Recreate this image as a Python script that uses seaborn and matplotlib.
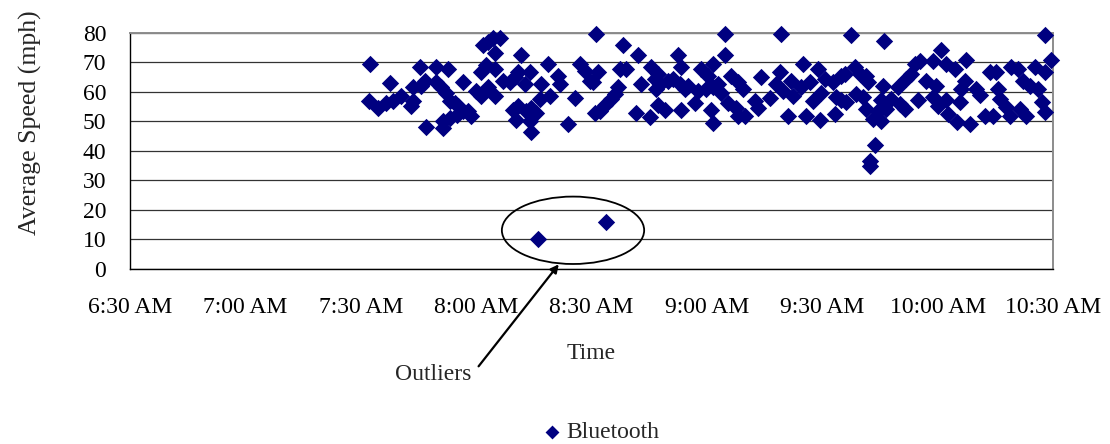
import matplotlib
matplotlib.use("Agg")
import matplotlib.pyplot as plt
from matplotlib.patches import Ellipse
import pandas as pd
import seaborn as sns

# Bluetooth travel-time detections: minutes after 6:30 AM and average speed (mph)
minutes = [
    62.4, 62.2, 64.6, 67.6, 66.7, 68.5, 70.6, 73.2, 73.7, 75.4, 75.8, 76.7, 73.7, 77.0,
    79.7, 82.8, 79.7, 81.0, 82.2, 83.2, 84.5, 85.4, 81.5, 81.5, 83.2, 85.0, 86.7, 88.0,
    88.8, 86.5, 90.1, 91.4, 91.4, 92.7, 91.9, 93.2, 94.5, 96.2, 94.9, 94.9, 93.2, 94.9,
    97.1, 98.8, 100.1, 101.0, 101.8, 102.7, 104.0, 99.7, 101.0, 100.5, 103.1, 104.4,
    105.7, 104.0, 104.2, 107.0, 108.8, 111.4, 111.8, 106.6, 109.2, 115.7, 114.0, 117.0,
    118.3,
    121.3, 119.6, 121.8, 120.5, 120.9, 122.2, 123.5, 125.2, 127.0, 126.1, 128.3, 127.4,
    129.1, 132.2, 133.0, 131.7, 135.2, 135.6, 136.5, 137.4, 137.8, 136.9, 137.4, 139.1,
    140.0, 141.3, 142.6, 143.4, 143.0, 143.4, 145.2, 144.3, 146.9, 147.8, 148.6, 150.4,
    151.5, 149.9, 151.7, 153.0, 153.8, 154.7, 154.7, 151.2, 151.7, 155.6, 156.4, 158.2,
    159.5, 157.7, 158.2, 159.9, 162.5, 163.4, 164.2, 166.4, 168.1, 169.0, 169.4, 171.2,
    172.0, 172.5, 169.9, 175.1, 174.6, 175.9, 176.8, 177.7, 179.0, 179.4, 180.7, 179.8,
    187.6, 196.0, 182.9, 185.0, 185.9, 188.5, 189.8, 191.5, 192.0, 183.7, 185.0, 183.3,
    186.3, 188.9, 190.7, 191.5, 193.3, 195.4, 194.6, 195.9, 195.4, 196.7, 193.7, 192.4,
    192.4, 198.0, 200.2, 201.5, 199.8, 201.9, 203.2, 205.0, 204.1, 205.4, 207.1, 208.9,
    211.0, 209.7, 208.9, 210.2, 212.3, 214.5, 212.3, 212.8, 215.0, 215.8, 216.2, 217.1,
    217.5, 218.4, 220.1, 221.0, 222.3, 223.6, 225.3, 225.8, 226.2, 224.5, 227.9, 228.8,
    229.2, 230.9, 231.4, 233.1, 232.3, 234.0, 235.3, 236.2, 237.9, 237.1, 237.9, 237.9,
    239.6,
    106.1, 123.9,
]
speed_mph = [
    69.4, 56.8, 54.5, 62.8, 56.2, 56.8, 58.5, 55.0, 61.4, 68.3, 62.0, 63.7, 56.8, 48.2,
    68.3, 67.7, 63.1, 61.4, 59.7, 56.8, 56.2, 55.0, 49.9, 47.6, 51.0, 52.2, 53.3, 53.3,
    51.6, 63.4, 60.2, 58.5, 66.6, 68.9, 75.7, 76.9, 78.0, 78.0, 72.9, 67.7, 61.4, 58.5,
    63.7, 63.1, 64.8, 66.6, 72.3, 62.5, 66.6, 53.9, 55.0, 50.5, 53.3, 54.5,
    52.8, 49.9, 46.4, 62.5, 69.4, 65.4, 62.5, 57.4, 58.5, 57.9, 49.0, 69.4,
    67.1,
    79.5, 63.7, 66.6, 63.1, 52.8, 53.3, 55.6, 57.4, 61.4, 59.1, 75.7, 67.7,
    67.7, 72.3, 62.5, 52.8, 51.3, 68.3, 64.3, 66.0, 62.5, 60.8, 55.6, 53.9,
    63.7, 64.3, 72.3, 68.3, 62.5, 53.9, 62.0, 60.8, 56.2, 60.2, 67.7, 65.4,
    69.4, 60.8, 61.4, 62.5, 59.7, 79.5, 72.3, 53.9, 49.3, 56.2, 65.4, 63.1,
    60.8, 54.5, 51.6, 51.6, 56.8, 54.5, 64.8, 57.9, 62.5, 66.6, 79.5, 51.6,
    63.7, 58.5, 60.2, 69.4, 61.4, 51.6, 63.1, 56.8, 67.7, 50.5, 64.3, 59.7,
    79.2, 77.2, 63.1, 65.4, 66.0, 68.2, 66.0, 65.4, 63.1, 58.1, 57.0, 52.5,
    56.4, 59.2, 58.1, 54.2, 50.8, 50.2, 53.6, 62.0, 57.0, 54.2, 42.1, 36.7,
    34.7, 57.5, 55.8, 54.2, 61.5, 64.3, 66.0, 57.0, 69.3, 70.4, 63.7, 70.4,
    74.0, 62.0, 58.1, 55.3, 69.3, 67.6, 57.0, 52.5, 49.7, 56.4, 60.9, 63.7,
    70.7, 49.1, 60.9, 58.7, 51.9, 66.5, 66.5, 60.9, 57.5, 51.9, 54.7, 51.9,
    68.2, 67.6, 54.2, 51.9, 63.7, 62.0, 68.2, 60.9, 66.5, 56.4, 53.0, 79.2,
    70.7,
    10.3, 15.8,
]

tick_minutes = [0, 30, 60, 90, 120, 150, 180, 210, 240]
tick_labels = ["6:30 AM", "7:00 AM", "7:30 AM", "8:00 AM", "8:30 AM",
               "9:00 AM", "9:30 AM", "10:00 AM", "10:30 AM"]
speed_ticks = [0, 10, 20, 30, 40, 50, 60, 70, 80]

df = pd.DataFrame({"minutes": minutes, "speed": speed_mph})

sns.set_theme(style="white")
plt.rcParams["font.family"] = ["Liberation Serif", "DejaVu Serif"]
plt.rcParams["font.size"] = 17

fig = plt.figure(figsize=(11.1, 4.44), dpi=100)
ax = fig.add_axes([0.1171, 0.3941, 0.8315, 0.5327])

sns.scatterplot(data=df, x="minutes", y="speed", marker="D", s=78,
                color="#000080", linewidth=0, label="Bluetooth",
                clip_on=False, zorder=3, ax=ax)

ax.set_xlim(0, 240)
ax.set_ylim(0, 80)
ax.set_xticks(tick_minutes)
ax.set_xticklabels(tick_labels)
ax.set_yticks(speed_ticks)
ax.tick_params(axis="both", direction="out", length=8, width=1,
               color="black", labelsize=17, labelcolor="black")
ax.tick_params(axis="x", pad=12)
ax.tick_params(axis="y", pad=9)

ax.grid(axis="y", color="#333333", linewidth=0.9)
ax.grid(axis="x", visible=False)
ax.set_axisbelow(True)
for side in ("left", "bottom"):
    ax.spines[side].set_color("black")
    ax.spines[side].set_linewidth(1)
for side in ("top", "right"):
    ax.spines[side].set_color("#8c8c8c")
    ax.spines[side].set_linewidth(1.4)

ax.set_xlabel("Time", fontsize=17)
ax.set_ylabel("Average Speed (mph)", fontsize=18.5)
ax.xaxis.set_label_coords(0.5, -0.313)
ax.yaxis.set_label_coords(-0.095, 0.62)

# ring around the two low readings, with a pointer from the caption
ring = Ellipse((115.2, 13.1), width=37, height=22.8, fill=False,
               edgecolor="black", linewidth=1.3, zorder=4)
ax.add_patch(ring)
ax.annotate("Outliers", xy=(111.5, 1.6), xytext=(88.9, -35.8),
            ha="right", va="center", fontsize=17,
            arrowprops=dict(arrowstyle="-|>", color="black", lw=1.6,
                            mutation_scale=12, relpos=(1.0, 0.5),
                            shrinkA=4, shrinkB=0),
            annotation_clip=False)

handles, labels = ax.get_legend_handles_labels()
ax.get_legend().remove()
fig.legend(handles, labels, loc="center", bbox_to_anchor=(0.54, 0.027),
           frameon=False, fontsize=17, handletextpad=0.1, handlelength=1.0,
           markerscale=0.8, borderpad=0.1)

fig.savefig("out.png", dpi=100)
